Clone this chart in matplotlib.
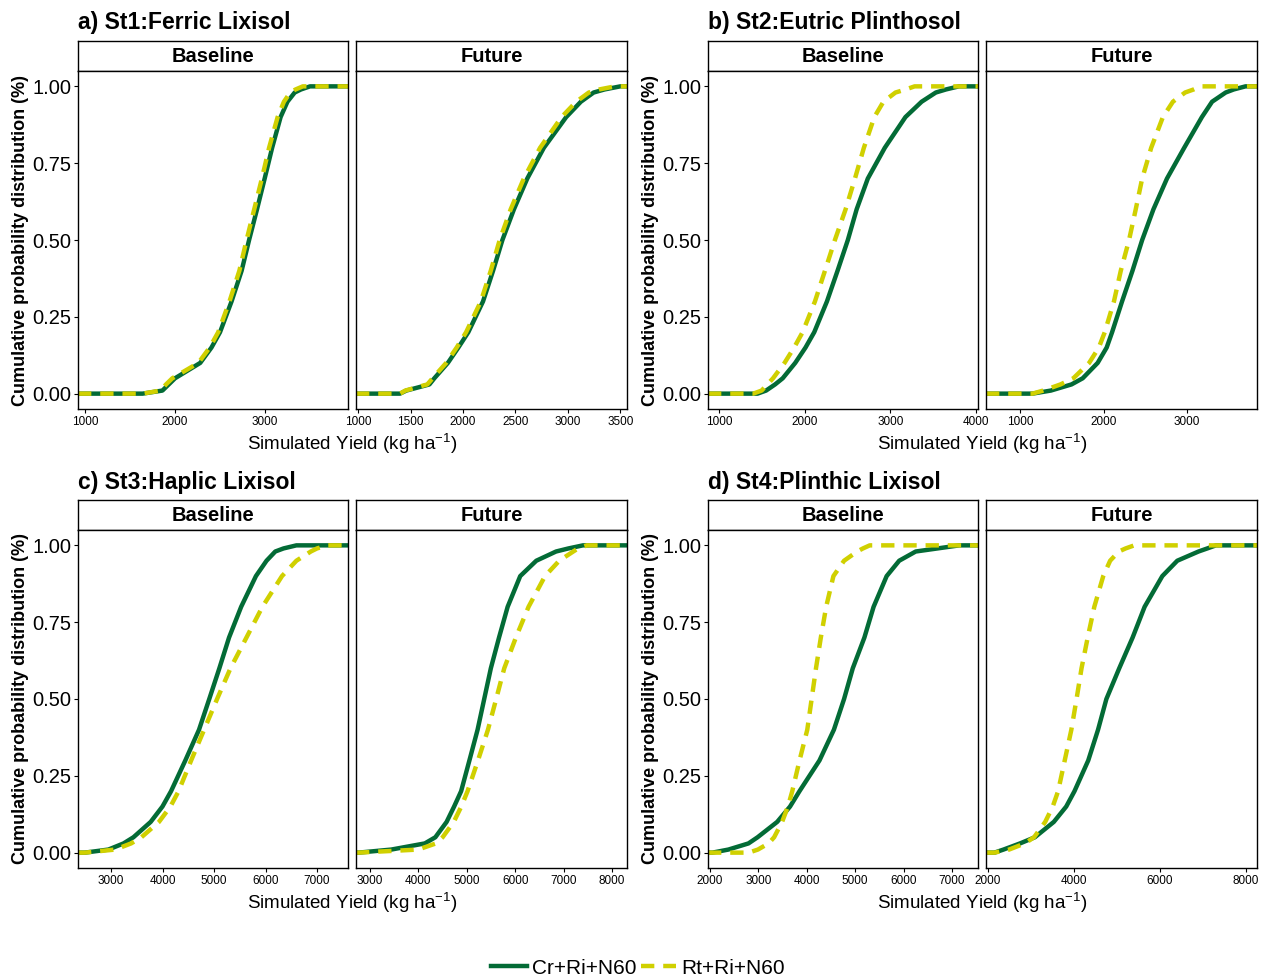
import matplotlib
matplotlib.use("Agg")
import matplotlib.pyplot as plt
from matplotlib.lines import Line2D

plt.rcParams['font.family'] = ['Liberation Sans', 'DejaVu Sans']
plt.rcParams['mathtext.fontset'] = 'custom'
plt.rcParams['mathtext.rm'] = 'Liberation Sans'
plt.rcParams['mathtext.default'] = 'regular'

# cumulative probability levels, yields read at each level (kg/ha)
prob = [0, 0.01, 0.03, 0.05, 0.1, 0.15, 0.2, 0.3, 0.4, 0.5, 0.6, 0.7, 0.8, 0.9, 0.95, 0.98, 0.99, 1.0]

a_base_cr = [1640, 1860, 1930, 2000, 2280, 2405, 2500, 2628, 2740, 2823, 2911, 2996, 3079, 3173, 3249, 3330, 3400, 3500]
a_base_rt = [1640, 1840, 1900, 1970, 2260, 2385, 2480, 2605, 2715, 2795, 2880, 2965, 3045, 3140, 3210, 3280, 3340, 3420]
a_fut_cr = [1400, 1460, 1680, 1727, 1856, 1956, 2051, 2191, 2287, 2376, 2486, 2613, 2771, 2984, 3124, 3246, 3350, 3500]
a_fut_rt = [1400, 1450, 1660, 1710, 1840, 1940, 2030, 2170, 2265, 2350, 2455, 2580, 2735, 2940, 3080, 3200, 3300, 3450]

b_base_cr = [1450, 1550, 1655, 1744, 1890, 2010, 2112, 2260, 2384, 2504, 2607, 2737, 2935, 3176, 3365, 3531, 3650, 3800]
b_base_rt = [1400, 1498, 1565, 1631, 1765, 1877, 1976, 2120, 2237, 2353, 2478, 2587, 2691, 2813, 2919, 3060, 3180, 3283]
b_fut_cr = [1150, 1370, 1617, 1751, 1930, 2038, 2103, 2222, 2347, 2463, 2598, 2760, 2966, 3178, 3300, 3463, 3560, 3700]
b_fut_rt = [1150, 1278, 1485, 1639, 1828, 1944, 2015, 2125, 2207, 2306, 2386, 2463, 2571, 2711, 2831, 2977, 3080, 3163]

c_base_cr = [2490, 2950, 3243, 3435, 3770, 3999, 4166, 4443, 4709, 4908, 5104, 5292, 5527, 5814, 6020, 6190, 6350, 6600]
c_base_rt = [2490, 3080, 3390, 3590, 3931, 4154, 4312, 4556, 4808, 5060, 5320, 5630, 5940, 6320, 6600, 6880, 7000, 7200]
c_fut_cr = [2763, 3440, 4133, 4350, 4583, 4738, 4883, 5054, 5223, 5360, 5497, 5666, 5844, 6104, 6436, 6844, 7100, 7400]
c_fut_rt = [2763, 3995, 4362, 4500, 4731, 4886, 5016, 5231, 5437, 5607, 5774, 6014, 6276, 6616, 6910, 7200, 7300, 7480]

d_base_cr = [2050, 2380, 2795, 2983, 3388, 3654, 3849, 4262, 4560, 4770, 4950, 5190, 5380, 5650, 5909, 6250, 6700, 7150]
d_base_rt = [2800, 2990, 3210, 3325, 3490, 3610, 3700, 3850, 4010, 4100, 4190, 4290, 4400, 4550, 4770, 5040, 5160, 5300]
d_fut_cr = [2150, 2360, 2744, 3089, 3530, 3819, 4011, 4331, 4559, 4753, 5052, 5363, 5642, 6054, 6402, 6896, 7100, 7300]
d_fut_rt = [2150, 2490, 2855, 3070, 3330, 3505, 3630, 3784, 3938, 4059, 4175, 4318, 4472, 4680, 4840, 5042, 5200, 5400]

titles = ["a) St1:Ferric Lixisol", "b) St2:Eutric Plinthosol",
          "c) St3:Haplic Lixisol", "d) St4:Plinthic Lixisol"]
periods = ["Baseline", "Future"]
treatments = ["Cr+Ri+N60", "Rt+Ri+N60"]

series = [[(a_base_cr, a_base_rt), (a_fut_cr, a_fut_rt)],
          [(b_base_cr, b_base_rt), (b_fut_cr, b_fut_rt)],
          [(c_base_cr, c_base_rt), (c_fut_cr, c_fut_rt)],
          [(d_base_cr, d_base_rt), (d_fut_cr, d_fut_rt)]]

xlims = [[(922, 3922), (980, 3564)],
         [(872, 4023), (593, 3838)],
         [(2359, 7602), (2711, 8310)],
         [(1959, 7537), (1953, 8256)]]
xticks = [[[1000, 2000, 3000], [1000, 1500, 2000, 2500, 3000, 3500]],
          [[1000, 2000, 3000, 4000], [1000, 2000, 3000]],
          [[3000, 4000, 5000, 6000, 7000], [3000, 4000, 5000, 6000, 7000, 8000]],
          [[2000, 3000, 4000, 5000, 6000, 7000], [2000, 4000, 6000, 8000]]]

green = '#036b36'
yellow = '#d0d000'

W, H = 1261, 980
fig = plt.figure(figsize=(W / 100, H / 100), dpi=100)


def box(x0, y0, x1, y1):
    return [x0 / W, 1 - y1 / H, (x1 - x0) / W, (y1 - y0) / H]


col_x = [[(78, 348), (356, 627)], [(708, 978), (986, 1257)]]
row_y = [(41, 71, 409), (500, 530, 868)]

for k in range(4):
    r, c = k // 2, k % 2
    ys, y0, y1 = row_y[r]
    fig.text(col_x[c][0][0] / W, 1 - (ys - 18) / H, titles[k], fontsize=16.5,
             fontweight='bold', ha='left', va='center')
    for j in range(2):
        x0, x1 = col_x[c][j]
        # strip
        sax = fig.add_axes(box(x0, ys, x1, y0))
        sax.set_xticks([])
        sax.set_yticks([])
        for s in sax.spines.values():
            s.set_linewidth(1.0)
        sax.text(0.5, 0.48, periods[j], fontsize=14.5, fontweight='bold',
                 ha='center', va='center', transform=sax.transAxes)

        ax = fig.add_axes(box(x0, y0, x1, y1))
        lo, hi = xlims[k][j]
        cr, rt = series[k][j]
        ax.plot([lo] + cr + [hi], [0] + prob + [1], color=green, lw=3.2,
                solid_capstyle='butt')
        ax.plot([lo] + rt + [hi], [0] + prob + [1], color=yellow, lw=3.2,
                dashes=(3, 2))
        ax.set_xlim(lo, hi)
        ax.set_ylim(-0.05, 1.05)
        ax.set_xticks(xticks[k][j])
        ax.tick_params(axis='x', labelsize=8.5, length=3, width=0.8, pad=2)
        ax.set_yticks([0, 0.25, 0.5, 0.75, 1.0])
        if j == 0:
            ax.set_yticklabels(["0.00", "0.25", "0.50", "0.75", "1.00"])
            ax.tick_params(axis='y', labelsize=14.5, length=3, width=0.8, pad=2)
            ax.set_ylabel("Cumulative probability distribution (%)", fontsize=13,
                          fontweight='bold', labelpad=2)
        else:
            ax.tick_params(axis='y', left=False, labelleft=False)
        for s in ax.spines.values():
            s.set_linewidth(1.0)
    mid = (col_x[c][0][0] + col_x[c][1][1]) / 2
    fig.text(mid / W, 1 - (y1 + 35) / H, "Simulated Yield (kg ha$^{-1}$)",
             fontsize=13.5, ha='center', va='center')

handles = [Line2D([], [], color=green, lw=3.2),
           Line2D([], [], color=yellow, lw=3.2, dashes=(3, 2))]
fig.legend(handles, treatments, loc='center', bbox_to_anchor=(638 / W, 1 - 968 / H),
           ncol=2, frameon=False, fontsize=15, handlelength=1.7, handletextpad=0.25,
           columnspacing=0.2, borderaxespad=0)

fig.savefig("out.png", dpi=100)
